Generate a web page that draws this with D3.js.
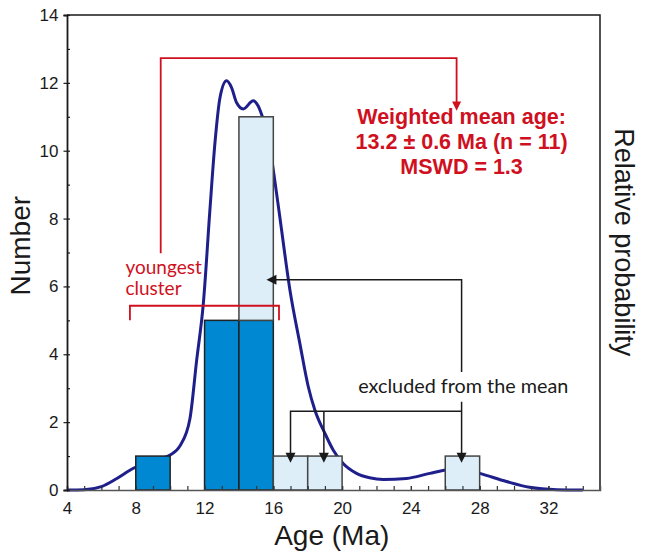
<!DOCTYPE html>
<html>
<head>
<meta charset="utf-8">
<script src="https://cdn.jsdelivr.net/npm/d3@7"></script>
<style>
  body { margin: 0; background: #fff; }
</style>
</head>
<body>
<svg id="mySvg"></svg>
<script>
// histogram bins (Ma), dark = used in the weighted mean, light = excluded
const binStart = [8, 12, 14, 16, 18, 26];
const binWidth = 2;
const included = [1, 5, 5, 0, 0, 0];
const excluded = [0, 0, 6, 1, 1, 1];

// relative probability curve (in "Number" units)
const curveAge = [4, 5, 6, 6.9, 7.86, 8.5, 9.2, 10, 10.57, 11.15, 11.54, 11.93, 12.31, 12.6, 12.9, 13.28,
  13.57, 13.86, 14.25, 14.83, 15.12, 15.41, 15.75, 16.03, 16.38, 16.97, 17.55, 18.03, 18.42, 19.0,
  19.48, 20.06, 20.84, 21.6, 22.39, 23.75, 25.1, 26.07, 27, 28.01, 29.56, 30.9, 32.5, 34];
const curveVal = [0, 0.01, 0.1, 0.34, 0.64, 0.78, 0.9, 1.03, 1.3, 2.1, 3.82, 5.5, 8.24, 10.2, 11.57, 12.06,
  11.86, 11.42, 11.23, 11.47, 11.32, 10.93, 10.3, 9.32, 8.04, 5.88, 4.3, 3.05, 2.35, 1.67,
  1.18, 0.78, 0.49, 0.36, 0.31, 0.34, 0.49, 0.59, 0.62, 0.49, 0.25, 0.08, 0.01, 0];

const xTicks = [4, 8, 12, 16, 20, 24, 28, 32];
const yTicks = [0, 2, 4, 6, 8, 10, 12, 14];

const meanText = ["Weighted mean age:", "13.2 ± 0.6 Ma (n = 11)", "MSWD = 1.3"];
const clusterText = ["youngest", "cluster"];
const excludedText = "excluded from the mean";

const W = 647, H = 559;
const margin = {top: 15, right: 47, bottom: 69, left: 67};
const width = W - margin.left - margin.right;
const height = H - margin.top - margin.bottom;

const red = "#d0101e";
const ink = "#1a1a1a";
const sans = "'Liberation Sans', Arial, sans-serif";
const humanist = "Lato, 'Open Sans', sans-serif";

const svg = d3.select("#mySvg").attr("width", W).attr("height", H)
  .append("g").attr("transform", `translate(${margin.left},${margin.top})`);

const x = d3.scaleLinear().domain([4, 35]).range([0, width]);
const y = d3.scaleLinear().domain([0, 14]).range([height, 0]);

// probability curve, under the bars
const line = d3.line().x((d, i) => x(curveAge[i])).y(d => y(d)).curve(d3.curveMonotoneX);
svg.append("path").datum(curveVal)
  .attr("fill", "none").attr("stroke", "#1f1f8c").attr("stroke-width", 3)
  .attr("d", line);

// bars
binStart.forEach((b, i) => {
  if (included[i] > 0) {
    svg.append("rect")
      .attr("x", x(b)).attr("width", x(b + binWidth) - x(b))
      .attr("y", y(included[i])).attr("height", y(0) - y(included[i]))
      .attr("fill", "#0089d2").attr("stroke", "#222").attr("stroke-width", 1.5);
  }
  if (excluded[i] > 0) {
    const top = included[i] + excluded[i];
    svg.append("rect")
      .attr("x", x(b)).attr("width", x(b + binWidth) - x(b))
      .attr("y", y(top)).attr("height", y(included[i]) - y(top))
      .attr("fill", "#ddeef9").attr("stroke", "#444").attr("stroke-width", 1.5);
  }
});

// frame (top + right)
svg.append("path")
  .attr("d", `M0,0H${width}V${height}`)
  .attr("fill", "none").attr("stroke", ink).attr("stroke-width", 1.5);

// bottom axis: ticks point inward
const xAxis = svg.append("g").attr("transform", `translate(0,${height})`);
xAxis.append("g")
  .call(d3.axisBottom(x).tickValues(d3.range(5, 35)).tickSize(-4).tickFormat(""))
  .call(g => g.select(".domain").remove())
  .call(g => g.selectAll("line").attr("stroke", "#333").attr("stroke-width", 1.2));
xAxis.append("g")
  .call(d3.axisBottom(x).tickValues(xTicks).tickSize(-4).tickPadding(12))
  .call(g => g.select(".domain").attr("stroke", "#555").attr("stroke-width", 1.5))
  .call(g => g.selectAll("line").attr("stroke", "#333").attr("stroke-width", 1.2))
  .call(g => g.selectAll("text").attr("font-size", 17).attr("fill", ink).style("font-family", sans));

// left axis: majors cross, minors inward
const yAxis = svg.append("g");
yAxis.append("g")
  .call(d3.axisLeft(y).tickValues(d3.range(1, 14, 2)).tickSize(-3).tickFormat(""))
  .call(g => g.select(".domain").remove())
  .call(g => g.selectAll("line").attr("stroke", ink).attr("stroke-width", 1.2));
yAxis.append("g")
  .call(d3.axisLeft(y).tickValues(yTicks).tickSize(3.5).tickPadding(5))
  .call(g => g.select(".domain").attr("stroke", ink).attr("stroke-width", 1.8))
  .call(g => g.selectAll("line").attr("x2", 3).attr("x1", -3.5).attr("stroke", ink).attr("stroke-width", 1.2))
  .call(g => g.selectAll("text").attr("font-size", 17).attr("fill", ink).style("font-family", sans));

// axis titles
svg.append("text")
  .attr("x", x(19.4)).attr("y", height + 55)
  .attr("text-anchor", "middle").attr("font-size", 28).attr("fill", ink).style("font-family", sans)
  .text("Age (Ma)");
svg.append("text")
  .attr("transform", `translate(${-37},${y(7.2)}) rotate(-90)`)
  .attr("text-anchor", "middle").attr("font-size", 28).attr("fill", ink).style("font-family", sans)
  .text("Number");
svg.append("text")
  .attr("transform", `translate(${width + 15},${y(7.3)}) rotate(90)`)
  .attr("text-anchor", "middle").attr("font-size", 27).attr("fill", ink).style("font-family", sans)
  .text("Relative probability");

// triangle arrowhead helper
function arrowHead(px, py, dir, s) {
  const p = dir === "down"
    ? [[px - s / 2, py - s], [px + s / 2, py - s], [px, py]]
    : [[px + s, py - s / 2], [px + s, py + s / 2], [px, py]];
  svg.append("path").attr("d", "M" + p.join("L") + "Z").attr("fill", ink);
}

// red annotation: youngest cluster -> weighted mean
svg.append("path")
  .attr("d", `M${x(9.45)},${y(6.98)}V${y(12.73)}H${x(26.66)}V${y(11.35)}`)
  .attr("fill", "none").attr("stroke", red).attr("stroke-width", 1.8);
svg.append("path")
  .attr("d", `M${x(26.66) - 4.5},${y(11.45)}L${x(26.66) + 4.5},${y(11.45)}L${x(26.66)},${y(11.18)}Z`)
  .attr("fill", red);
svg.append("path")
  .attr("d", `M${x(7.66)},${y(5.0)}V${y(5.43)}H${x(16.33)}V${y(5.0)}`)
  .attr("fill", "none").attr("stroke", red).attr("stroke-width", 1.8);

const meanG = svg.append("text")
  .attr("text-anchor", "middle").attr("font-weight", "bold").attr("font-size", 21.5).attr("fill", red)
  .style("font-family", sans);
meanText.forEach((t, i) => {
  meanG.append("tspan").attr("x", x(26.95)).attr("y", y(10.78) + i * 25).text(t);
});

const clusterG = svg.append("text")
  .attr("font-size", 19).attr("fill", red).style("font-family", humanist);
clusterText.forEach((t, i) => {
  clusterG.append("tspan").attr("x", x(7.4)).attr("y", y(6.36) + i * 21).text(t);
});

// black arrows: excluded grains
svg.append("path")
  .attr("d", `M${x(26.95)},${y(3.48)}V${y(6.2)}H${x(15.6) + 9}`)
  .attr("fill", "none").attr("stroke", ink).attr("stroke-width", 1.5);
arrowHead(x(15.6), y(6.2), "left", 10);
svg.append("path")
  .attr("d", `M${x(26.95)},${y(2.6)}V${y(0.8) - 9}M${x(17)},${y(0.8) - 9}V${y(2.32)}H${x(26.95)}M${x(18.94)},${y(2.32)}V${y(0.8) - 9}`)
  .attr("fill", "none").attr("stroke", ink).attr("stroke-width", 1.5);
arrowHead(x(17), y(0.8), "down", 10);
arrowHead(x(18.94), y(0.8), "down", 10);
arrowHead(x(26.95), y(0.8), "down", 10);

svg.append("text")
  .attr("x", x(27.05)).attr("y", y(2.85))
  .attr("text-anchor", "middle").style("font-family", humanist)
  .attr("font-size", 19.8).attr("fill", ink)
  .text(excludedText);
</script>
</body>
</html>
